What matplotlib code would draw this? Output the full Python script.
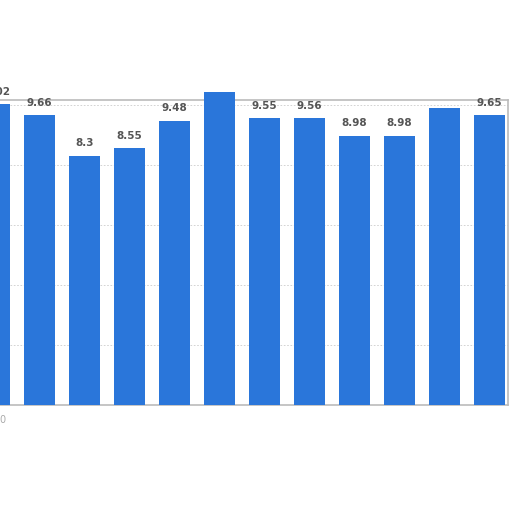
import matplotlib
matplotlib.use("Agg")
import matplotlib.pyplot as plt
import numpy as np

categories = ["c0", "c1", "c2", "c3", "c4", "c5", "c6", "c7", "c8", "c9", "c10", "c11"]
values = [10.02, 9.66, 8.3, 8.55, 9.48, 10.43, 9.55, 9.56, 8.98, 8.98, 9.9, 9.65]
labels = ["10.02", "9.66", "8.3", "8.55", "9.48", "", "9.55", "9.56", "8.98", "8.98", "", "9.65"]
yticks = [0, 2, 4, 6, 8, 10]

fig = plt.figure(figsize=(5.12, 5.12), dpi=100)
# axes: px x 0..508, y 100..405
ax = fig.add_axes([0.0, (512 - 405) / 512, 508 / 512, (405 - 100) / 512])
x = np.arange(len(categories))
bars = ax.bar(x, values, width=0.69, color="#2a76da", zorder=3, clip_on=False)
for xi, v, lab in zip(x, values, labels):
    if lab:
        ax.text(xi, v + 0.25, lab, ha="center", va="bottom", fontsize=7.5,
                fontweight="semibold", color="#555555", zorder=4, clip_on=False)

ax.set_xlim(0.121, 11.42)
ax.set_ylim(0, 305 / 30)
ax.set_yticks(yticks)
ax.set_xticks([])
ax.yaxis.grid(True, linestyle=(0, (2, 2)), color="#cccccc", linewidth=0.6, zorder=0)
ax.tick_params(axis="y", length=0, labelleft=False)
for s in ["top", "bottom", "left", "right"]:
    ax.spines[s].set_color("#bbbbbb")
    ax.spines[s].set_linewidth(1.2)
ax.spines["left"].set_visible(False)
fig.text(0.004, (512 - 420) / 512, "0", fontsize=7, color="#aaaaaa", ha="center", va="center")

fig.savefig("out.png", dpi=100)
